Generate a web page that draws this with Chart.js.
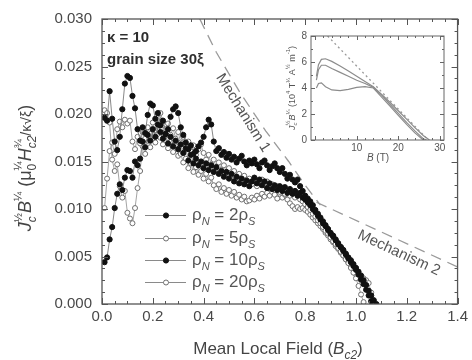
<!DOCTYPE html>
<html>
<head>
<meta charset="utf-8">
<script src="https://cdn.jsdelivr.net/npm/chart.js@4.4.1/dist/chart.umd.min.js"></script>
<style>
  html, body { margin: 0; padding: 0; background: #fff; }
  #wrap { position: relative; width: 472px; height: 360px; }
  #main { position: absolute; left: 0; top: 0; }
  #inset { position: absolute; left: 280px; top: 26px; }
</style>
</head>
<body>
<div id="wrap">
  <canvas id="main" width="472" height="360"></canvas>
  <canvas id="inset" width="180" height="142"></canvas>
</div>
<script>
// mean local field (units of Bc2), shared by the four simulation runs
const fieldB = [
  0.01, 0.02, 0.03, 0.04, 0.05, 0.06, 0.07, 0.08, 0.09, 0.10,
  0.11, 0.12, 0.13, 0.14, 0.15, 0.16, 0.17, 0.18, 0.19, 0.20,
  0.21, 0.22, 0.23, 0.24, 0.25, 0.26, 0.27, 0.28, 0.29, 0.30,
  0.31, 0.32, 0.33, 0.34, 0.35, 0.36, 0.37, 0.38, 0.39, 0.40,
  0.41, 0.42, 0.43, 0.44, 0.45, 0.46, 0.47, 0.48, 0.49, 0.50,
  0.51, 0.52, 0.53, 0.54, 0.55, 0.56, 0.57, 0.58, 0.59, 0.60,
  0.61, 0.62, 0.63, 0.64, 0.65, 0.66, 0.67, 0.68, 0.69, 0.70,
  0.71, 0.72, 0.73, 0.74, 0.75, 0.76, 0.77, 0.78, 0.79, 0.80,
  0.81, 0.82, 0.83, 0.84, 0.85, 0.86, 0.87, 0.88, 0.89, 0.90,
  0.91, 0.92, 0.93, 0.94, 0.95, 0.96, 0.97, 0.98, 0.99, 1.00,
  1.01, 1.02, 1.03, 1.04, 1.05, 1.06, 1.07, 1.08
];

// rho_N = 2 rho_S (filled)
const rho2 = [
  0.0196, 0.0193, 0.0224, 0.0195, 0.0171, 0.0162, 0.0176, 0.0205, 0.0232, 0.0240,
  0.0238, 0.0219, 0.0206, 0.0184, 0.0172, 0.0186, 0.0180, 0.0199, 0.0211, 0.0209,
  0.0195, 0.0201, 0.0188, 0.0193, 0.0179, 0.0184, 0.0197, 0.0205, 0.0208, 0.0201,
  0.0186, 0.0178, 0.0170, 0.0163, 0.0167, 0.0158, 0.0161, 0.0166, 0.0170, 0.0176,
  0.0186, 0.0194, 0.0189, 0.0171, 0.0161, 0.0164, 0.0157, 0.0160, 0.0154, 0.0158,
  0.0152, 0.0155, 0.0149, 0.0153, 0.0156, 0.0150, 0.0146, 0.0151, 0.0148, 0.0152,
  0.0147, 0.0143, 0.0149, 0.0151, 0.0146, 0.0141, 0.0145, 0.0148, 0.0143, 0.0139,
  0.0143, 0.0137, 0.0132, 0.0136, 0.0131, 0.0128, 0.0131, 0.0124, 0.0119, 0.0114,
  0.0111, 0.0108, 0.0104, 0.0099, 0.0095, 0.0091, 0.0087, 0.0083, 0.0079, 0.0075,
  0.0072, 0.0068, 0.0064, 0.0060, 0.0057, 0.0053, 0.0049, 0.0046, 0.0042, 0.0038,
  0.0034, 0.0030, 0.0025, 0.0020, 0.0014, 0.0009, 0.0004, 0.0000
];

// rho_N = 5 rho_S (open)
const rho5 = [
  0.0101, 0.0132, 0.0161, 0.0170, 0.0158, 0.0184, 0.0192, 0.0186, 0.0194, 0.0190,
  0.0193, 0.0171, 0.0163, 0.0176, 0.0169, 0.0181, 0.0174, 0.0186, 0.0179, 0.0191,
  0.0183, 0.0196, 0.0201, 0.0192, 0.0184, 0.0190, 0.0178, 0.0185, 0.0174, 0.0181,
  0.0170, 0.0176, 0.0166, 0.0171, 0.0161, 0.0167, 0.0157, 0.0163, 0.0168, 0.0159,
  0.0152, 0.0157, 0.0147, 0.0152, 0.0144, 0.0149, 0.0141, 0.0146, 0.0138, 0.0143,
  0.0135, 0.0140, 0.0133, 0.0137, 0.0130, 0.0135, 0.0128, 0.0132, 0.0126, 0.0130,
  0.0124, 0.0128, 0.0131, 0.0125, 0.0129, 0.0122, 0.0126, 0.0120, 0.0124, 0.0118,
  0.0122, 0.0116, 0.0119, 0.0114, 0.0117, 0.0112, 0.0115, 0.0110, 0.0108, 0.0105,
  0.0102, 0.0099, 0.0095, 0.0092, 0.0088, 0.0085, 0.0081, 0.0077, 0.0074, 0.0070,
  0.0066, 0.0063, 0.0059, 0.0055, 0.0051, 0.0047, 0.0043, 0.0038, 0.0033, 0.0027,
  0.0019, 0.0010, 0.0002
];

// rho_N = 10 rho_S (filled)
const rho10 = [
  0.0044, 0.0049, 0.0068, 0.0081, 0.0101, 0.0116, 0.0126, 0.0120, 0.0133, 0.0141,
  0.0140, 0.0133, 0.0150, 0.0146, 0.0153, 0.0171, 0.0165, 0.0178, 0.0172, 0.0184,
  0.0176, 0.0189, 0.0181, 0.0174, 0.0179, 0.0169, 0.0176, 0.0166, 0.0172, 0.0163,
  0.0168, 0.0159, 0.0164, 0.0151, 0.0157, 0.0148, 0.0153, 0.0146, 0.0150, 0.0143,
  0.0148, 0.0141, 0.0146, 0.0139, 0.0144, 0.0137, 0.0140, 0.0134, 0.0139, 0.0132,
  0.0137, 0.0129, 0.0134, 0.0127, 0.0132, 0.0126, 0.0130, 0.0124, 0.0129, 0.0133,
  0.0127, 0.0131, 0.0125, 0.0129, 0.0122, 0.0127, 0.0121, 0.0125, 0.0120, 0.0124,
  0.0119, 0.0123, 0.0117, 0.0121, 0.0116, 0.0119, 0.0114, 0.0117, 0.0112, 0.0110,
  0.0107, 0.0104, 0.0100, 0.0097, 0.0093, 0.0089, 0.0085, 0.0082, 0.0078, 0.0074,
  0.0071, 0.0067, 0.0063, 0.0060, 0.0056, 0.0052, 0.0048, 0.0044, 0.0040, 0.0036,
  0.0031, 0.0026, 0.0021, 0.0015, 0.0009, 0.0003
];

// rho_N = 20 rho_S (open)
const rho20 = [
  0.0204, 0.0201, 0.0191, 0.0152, 0.0140, 0.0147, 0.0124, 0.0112, 0.0119, 0.0096,
  0.0090, 0.0085, 0.0101, 0.0122, 0.0140, 0.0166, 0.0158, 0.0172, 0.0165, 0.0178,
  0.0170, 0.0183, 0.0175, 0.0168, 0.0177, 0.0164, 0.0171, 0.0160, 0.0167, 0.0156,
  0.0158, 0.0149, 0.0153, 0.0143, 0.0148, 0.0139, 0.0144, 0.0136, 0.0140, 0.0132,
  0.0137, 0.0129, 0.0133, 0.0125, 0.0121, 0.0126, 0.0118, 0.0122, 0.0116, 0.0120,
  0.0114, 0.0118, 0.0112, 0.0115, 0.0110, 0.0113, 0.0108, 0.0109, 0.0112, 0.0110,
  0.0114, 0.0111, 0.0116, 0.0113, 0.0117, 0.0114, 0.0118, 0.0115, 0.0111, 0.0116,
  0.0112, 0.0115, 0.0110, 0.0106, 0.0103, 0.0100, 0.0102, 0.0100, 0.0101, 0.0099,
  0.0097, 0.0094, 0.0091, 0.0088, 0.0085, 0.0082, 0.0079, 0.0075, 0.0072, 0.0068,
  0.0065, 0.0061, 0.0058, 0.0054, 0.0051, 0.0047, 0.0044, 0.0040, 0.0036, 0.0031,
  0.0027, 0.0025, 0.0027, 0.0025, 0.0022, 0.0012, 0.0000
];

// model curves
const mech1B = [0.385, 0.45, 0.54, 0.645, 0.735, 0.80, 0.86];
const mech1V = [0.0300, 0.0265, 0.0224, 0.0182, 0.0150, 0.0125, 0.0104];
const mech2B = [0.78, 1.40];
const mech2V = [0.0115, 0.0039];

const seriesNames = ['2', '5', '10', '20'];

// inset: J_c^1/2 B^1/4 vs B (T)
const insetTopB = [0.3, 0.8, 1.5, 2.5, 4, 6, 8, 10, 12, 14, 16, 18, 20, 22, 24, 26, 27.5];
const insetTopV = [4.9, 5.8, 6.2, 6.25, 6.05, 5.7, 5.3, 4.9, 4.5, 4.1, 3.5, 2.9, 2.25, 1.6, 0.95, 0.35, 0];
const insetMidB = [0.3, 0.8, 1.5, 2.5, 4, 6, 8, 10, 12, 14, 16, 18, 20, 22, 24, 26, 26.8];
const insetMidV = [4.6, 5.4, 5.75, 5.75, 5.5, 5.2, 4.9, 4.6, 4.35, 4.05, 3.45, 2.75, 2.05, 1.35, 0.7, 0.1, 0];
const insetLowB = [0.3, 0.8, 1.5, 2.5, 4, 6, 8, 10, 12, 14, 16, 18, 20, 22, 24, 26];
const insetLowV = [4.0, 4.35, 4.4, 4.1, 3.85, 3.8, 3.9, 4.05, 4.1, 4.0, 3.3, 2.6, 1.9, 1.2, 0.55, 0];
const insetDotB = [3, 27.2];
const insetDotV = [8, 0];

const family = '"Liberation Sans", Arial, sans-serif';
const fnt = (s, it, b) => (it ? 'italic ' : '') + (b ? 'bold ' : '') + s + 'px ' + family;
const pts = (xs, ys) => ys.map((y, i) => ({ x: xs[i], y }));

// rich text with sub/superscripts: {t, s, i, dy, up, us, ud}
function richParts(ctx, parts, draw, x, y) {
  let cx = x;
  for (const p of parts) {
    ctx.font = fnt(p.s, p.i);
    let w = ctx.measureText(p.t).width;
    if (draw) ctx.fillText(p.t, cx, y + (p.dy || 0));
    if (p.up) {
      ctx.font = fnt(p.us || p.s, false);
      const w2 = ctx.measureText(p.up).width;
      if (draw) ctx.fillText(p.up, cx, y + p.ud);
      w = Math.max(w, w2);
    }
    cx += w;
  }
  return cx - x;
}
function drawRich(ctx, parts, x, y, align) {
  ctx.textAlign = 'left';
  ctx.textBaseline = 'alphabetic';
  const w = richParts(ctx, parts, false, 0, 0);
  richParts(ctx, parts, true, align === 'center' ? x - w / 2 : x, y);
}

// frame with inward ticks on all sides
function frameTicks(o) {
  return {
    id: 'frameTicks',
    afterDatasetsDraw(chart) {
      const { ctx, chartArea: a, scales: { x, y } } = chart;
      ctx.save();
      ctx.strokeStyle = o.color;
      ctx.lineWidth = o.width;
      ctx.strokeRect(a.left, a.top, a.right - a.left, a.bottom - a.top);
      ctx.lineWidth = 1;
      ctx.beginPath();
      for (let i = 0; o.x0 + i * o.xStep <= x.max + 1e-9; i++) {
        const px = Math.round(x.getPixelForValue(o.x0 + i * o.xStep)) + 0.5;
        const len = i % o.xEvery === 0 ? o.major : o.minor;
        ctx.moveTo(px, a.bottom); ctx.lineTo(px, a.bottom - len);
        ctx.moveTo(px, a.top); ctx.lineTo(px, a.top + len);
      }
      for (let i = 0; o.y0 + i * o.yStep <= y.max + 1e-9; i++) {
        const py = Math.round(y.getPixelForValue(o.y0 + i * o.yStep)) + 0.5;
        const len = i % o.yEvery === 0 ? o.major : o.minor;
        ctx.moveTo(a.left, py); ctx.lineTo(a.left + len, py);
        ctx.moveTo(a.right, py); ctx.lineTo(a.right - len, py);
      }
      ctx.stroke();
      ctx.restore();
    }
  };
}

const filled = { pointStyle: 'circle', pointRadius: 2.6, pointBackgroundColor: '#111', pointBorderColor: '#111', pointBorderWidth: 1 };
const open = { pointStyle: 'circle', pointRadius: 2.5, pointBackgroundColor: '#fff', pointBorderColor: '#6f6f6f', pointBorderWidth: 1 };

const mainSets = [
  { data: pts(fieldB, rho2), borderColor: '#7a7a7a', borderWidth: 0.9, order: 1, ...filled },
  { data: pts(fieldB, rho5), borderColor: '#9a9a9a', borderWidth: 0.9, order: 3, ...open },
  { data: pts(fieldB, rho10), borderColor: '#7a7a7a', borderWidth: 0.9, order: 2, ...filled },
  { data: pts(fieldB, rho20), borderColor: '#9a9a9a', borderWidth: 0.9, order: 4, ...open },
  { data: pts(mech1B, mech1V), borderColor: '#9a9a9a', borderWidth: 1.3, borderDash: [11, 7], pointRadius: 0, order: 10 },
  { data: pts(mech2B, mech2V), borderColor: '#9a9a9a', borderWidth: 1.3, borderDash: [11, 7], pointRadius: 0, order: 10 }
];

const labelsPlugin = {
  id: 'labels',
  afterDraw(chart) {
    const ctx = chart.ctx;
    ctx.save();
    ctx.textAlign = 'left';
    ctx.textBaseline = 'alphabetic';

    ctx.fillStyle = '#2e2e2e';
    ctx.font = fnt(15, false, true);
    ctx.fillText('κ = 10', 107, 42);
    ctx.fillText('grain size 30ξ', 107, 64);

    // mechanism labels along the dashed lines
    ctx.fillStyle = '#555';
    ctx.font = fnt(15);
    ctx.textAlign = 'center';
    ctx.textBaseline = 'middle';
    ctx.save();
    ctx.translate(243, 113);
    ctx.rotate(58 * Math.PI / 180);
    ctx.fillText('Mechanism 1', 0, 0);
    ctx.restore();
    ctx.save();
    ctx.translate(399, 253);
    ctx.rotate(25 * Math.PI / 180);
    ctx.fillText('Mechanism 2', 0, 0);
    ctx.restore();

    // legend
    const rows = [215, 238, 260, 282];
    seriesNames.forEach((n, i) => {
      const ds = chart.data.datasets[i];
      const y = rows[i];
      ctx.strokeStyle = '#8a8a8a';
      ctx.lineWidth = 1;
      ctx.beginPath();
      ctx.moveTo(145, y + 0.5);
      ctx.lineTo(186, y + 0.5);
      ctx.stroke();
      ctx.beginPath();
      ctx.arc(166, y + 0.5, ds.pointRadius, 0, Math.PI * 2);
      ctx.fillStyle = ds.pointBackgroundColor;
      ctx.fill();
      ctx.strokeStyle = ds.pointBorderColor;
      ctx.stroke();
      ctx.fillStyle = '#555';
      drawRich(ctx, [
        { t: 'ρ', s: 17 },
        { t: 'N', s: 11, i: true, dy: 5 },
        { t: ' = ' + n + 'ρ', s: 17 },
        { t: 'S', s: 11, i: true, dy: 5 }
      ], 192, y + 5);
    });

    // axis titles
    ctx.fillStyle = '#444';
    drawRich(ctx, [
      { t: 'Mean Local Field (', s: 17 },
      { t: 'B', s: 17, i: true },
      { t: 'c2', s: 12, i: true, dy: 5 },
      { t: ')', s: 17 }
    ], 278, 354, 'center');

    ctx.save();
    ctx.translate(31, 168);
    ctx.rotate(-Math.PI / 2);
    drawRich(ctx, [
      { t: 'J', s: 18, i: true },
      { t: 'c', s: 12, i: true, dy: 5, up: '½', us: 11, ud: -9 },
      { t: 'B', s: 18, i: true },
      { t: '¼', s: 11, dy: -9 },
      { t: ' (μ', s: 18 },
      { t: '0', s: 12, dy: 5, up: '¼', us: 11, ud: -9 },
      { t: 'H', s: 18, i: true },
      { t: 'c2', s: 12, i: true, dy: 5, up: '¾', us: 11, ud: -9 },
      { t: '/κ√ξ', s: 14 },
      { t: ')', s: 18 }
    ], 0, 0, 'center');
    ctx.restore();
    ctx.restore();
  }
};

new Chart(document.getElementById('main'), {
  type: 'line',
  data: { datasets: mainSets },
  options: {
    responsive: false,
    animation: false,
    events: [],
    layout: { padding: { left: 10, top: 17, right: 12, bottom: 0 } },
    elements: { line: { tension: 0 } },
    plugins: { legend: { display: false }, tooltip: { enabled: false } },
    scales: {
      x: {
        type: 'linear', min: 0, max: 1.4,
        grid: { display: false, drawTicks: false }, border: { display: false },
        ticks: { stepSize: 0.2, padding: 4, color: '#484848', font: { size: 15, family }, callback: v => v.toFixed(1) },
        afterFit: s => { s.height = 56; }
      },
      y: {
        min: 0, max: 0.03,
        grid: { display: false, drawTicks: false }, border: { display: false },
        ticks: { stepSize: 0.005, padding: 10, color: '#484848', font: { size: 15, family }, callback: v => v.toFixed(3) },
        afterFit: s => { s.width = 92; }
      }
    }
  },
  plugins: [frameTicks({ color: '#555', width: 1.3, x0: 0, xStep: 0.05, xEvery: 4, y0: 0, yStep: 0.00125, yEvery: 4, major: 6, minor: 3 }), labelsPlugin]
});

// ---- inset ----
const insetLine = { borderColor: '#8c8c8c', borderWidth: 1.2, pointRadius: 0 };
const insetTitles = {
  id: 'insetTitles',
  afterDraw(chart) {
    const ctx = chart.ctx;
    ctx.save();
    ctx.fillStyle = '#555';
    drawRich(ctx, [{ t: 'B', s: 10, i: true }, { t: ' (T)', s: 10 }], 98, 135, 'center');
    ctx.translate(15, 62);
    ctx.rotate(-Math.PI / 2);
    drawRich(ctx, [
      { t: 'J', s: 9, i: true },
      { t: 'c', s: 6, i: true, dy: 2, up: '½', us: 6, ud: -5 },
      { t: 'B', s: 9, i: true },
      { t: '¼', s: 6, dy: -5 },
      { t: ' (10', s: 9 },
      { t: '4', s: 6, dy: -5 },
      { t: ' T', s: 9 },
      { t: '¼', s: 6, dy: -5 },
      { t: ' A', s: 9 },
      { t: '½', s: 6, dy: -5 },
      { t: ' m', s: 9 },
      { t: '-1', s: 6, dy: -5 },
      { t: ')', s: 9 }
    ], 0, 0, 'center');
    ctx.restore();
  }
};

new Chart(document.getElementById('inset'), {
  type: 'line',
  data: {
    datasets: [
      { data: pts(insetTopB, insetTopV), ...insetLine },
      { data: pts(insetMidB, insetMidV), ...insetLine },
      { data: pts(insetLowB, insetLowV), ...insetLine },
      { data: pts(insetDotB, insetDotV), borderColor: '#999', borderWidth: 1.3, borderDash: [2, 3], pointRadius: 0 }
    ]
  },
  options: {
    responsive: false,
    animation: false,
    events: [],
    layout: { padding: { left: 0, top: 10, right: 16, bottom: 0 } },
    plugins: { legend: { display: false }, tooltip: { enabled: false } },
    scales: {
      x: {
        type: 'linear', min: -1, max: 31,
        grid: { display: false, drawTicks: false }, border: { display: false },
        ticks: { padding: 2, color: '#555', font: { size: 10, family } },
        afterBuildTicks: s => { s.ticks = [10, 20, 30].map(v => ({ value: v })); },
        afterFit: s => { s.height = 28; }
      },
      y: {
        min: 0, max: 8,
        grid: { display: false, drawTicks: false }, border: { display: false },
        ticks: { stepSize: 2, padding: 4, color: '#555', font: { size: 10, family } },
        afterFit: s => { s.width = 31; }
      }
    }
  },
  plugins: [frameTicks({ color: '#666', width: 1, x0: 0, xStep: 2, xEvery: 5, y0: 0, yStep: 1, yEvery: 2, major: 4, minor: 2 }), insetTitles]
});
</script>
</body>
</html>
